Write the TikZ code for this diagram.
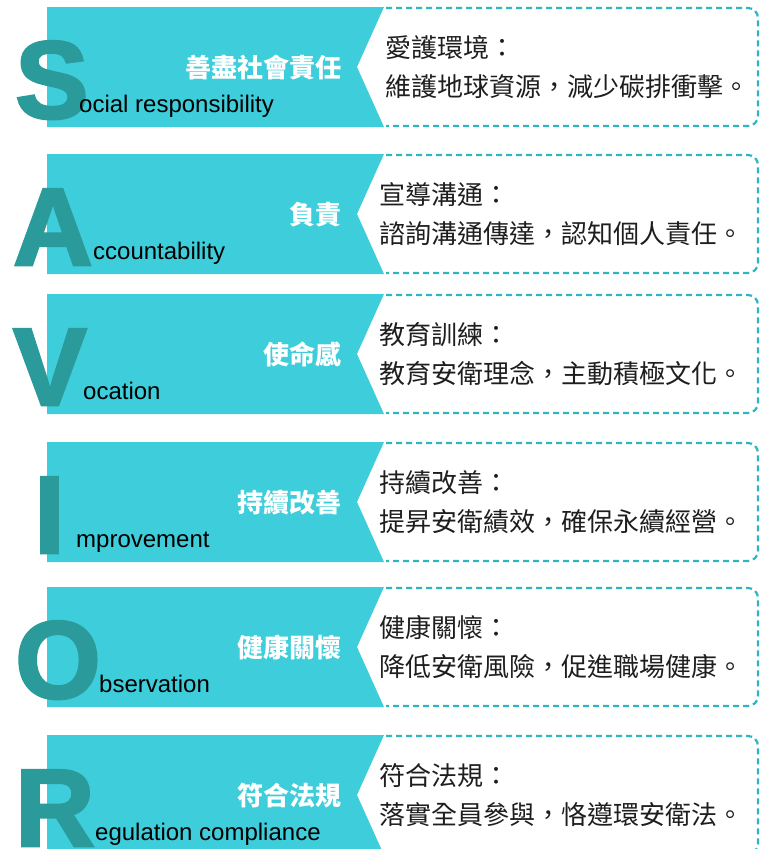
\documentclass[tikz,border=0pt]{standalone}
\usepackage{fontspec}
\setmainfont{Liberation Sans}
\newfontfamily\cjkfont{Noto Sans CJK TC}
\newfontfamily\bigfont[BoldFeatures={FakeBold=2.5}]{Liberation Sans}
\definecolor{bandfill}{HTML}{3ECDDA}
\definecolor{dashcol}{HTML}{2DB6C2}
\definecolor{lettercol}{HTML}{2A9A9A}
\definecolor{bodytext}{HTML}{1E1E1E}
\tikzset{
  bandshape/.style={fill=bandfill, draw=none},
  infobox/.style={draw=dashcol, line width=2.2pt, dash pattern=on 6pt off 4pt, rounded corners=10pt},
  bigletter/.style={anchor=base west, inner sep=0pt, text=lettercol, font=\bigfont\fontsize{110}{110}\selectfont\bfseries},
  wordtext/.style={anchor=base west, inner sep=0pt, text=black, font=\fontsize{24}{24}\selectfont},
  labeltext/.style={anchor=base east, inner sep=0pt, text=white, font=\cjkfont\fontsize{26}{26}\selectfont\bfseries},
  bodyline/.style={anchor=base west, inner sep=0pt, text=bodytext, font=\cjkfont\fontsize{26}{26}\selectfont},
}
% #1 name, #2 top, #3 letter x, #4 letter, #5 word x, #6 word, #7 label, #8 line1, #9 line2
\newcommand\mkband[9]{%
  \fill[bandshape] (47,#2) -- (384,#2) -- (357,#2+60) -- (384,#2+120) -- (47,#2+120) -- cycle;
  \draw[infobox] (386,#2+1) -- (758,#2+1) -- (758,#2+119) -- (386,#2+119);
  \node[bigletter] (#1-letter) at (#3,#2+111) {#4};
  \node[wordtext] (#1-word) at (#5,#2+105.5) {#6};
  \node[labeltext] (#1-label) at (342,#2+70) {#7};
  \node[bodyline] (#1-line1) at (\textx,#2+50) {#8};
  \node[bodyline] (#1-line2) at (\textx,#2+89) {#9};
}
\begin{document}
\begin{tikzpicture}[x=1pt,y=-1pt]
\useasboundingbox (0,0) rectangle (761,849);
\clip (0,0) rectangle (761,849);
\def\textx{385}
\mkband{s}{7}{15}{S}{79}{ocial responsibility}{善盡社會責任}{愛護環境：}{維護地球資源，減少碳排衝擊。}
\def\textx{379}
\mkband{a}{154}{13}{A}{93}{ccountability}{負責}{宣導溝通：}{諮詢溝通傳達，認知個人責任。}
\mkband{v}{294}{13}{V}{83}{ocation}{使命感}{教育訓練：}{教育安衛理念，主動積極文化。}
\mkband{i}{442}{34}{I}{76}{mprovement}{持續改善}{持續改善：}{提昇安衛績效，確保永續經營。}
\mkband{o}{587}{15}{O}{99}{bservation}{健康關懷}{健康關懷：}{降低安衛風險，促進職場健康。}
\mkband{r}{735}{15}{R}{95}{egulation compliance}{符合法規}{符合法規：}{落實全員參與，恪遵環安衛法。}
\end{tikzpicture}
\end{document}
